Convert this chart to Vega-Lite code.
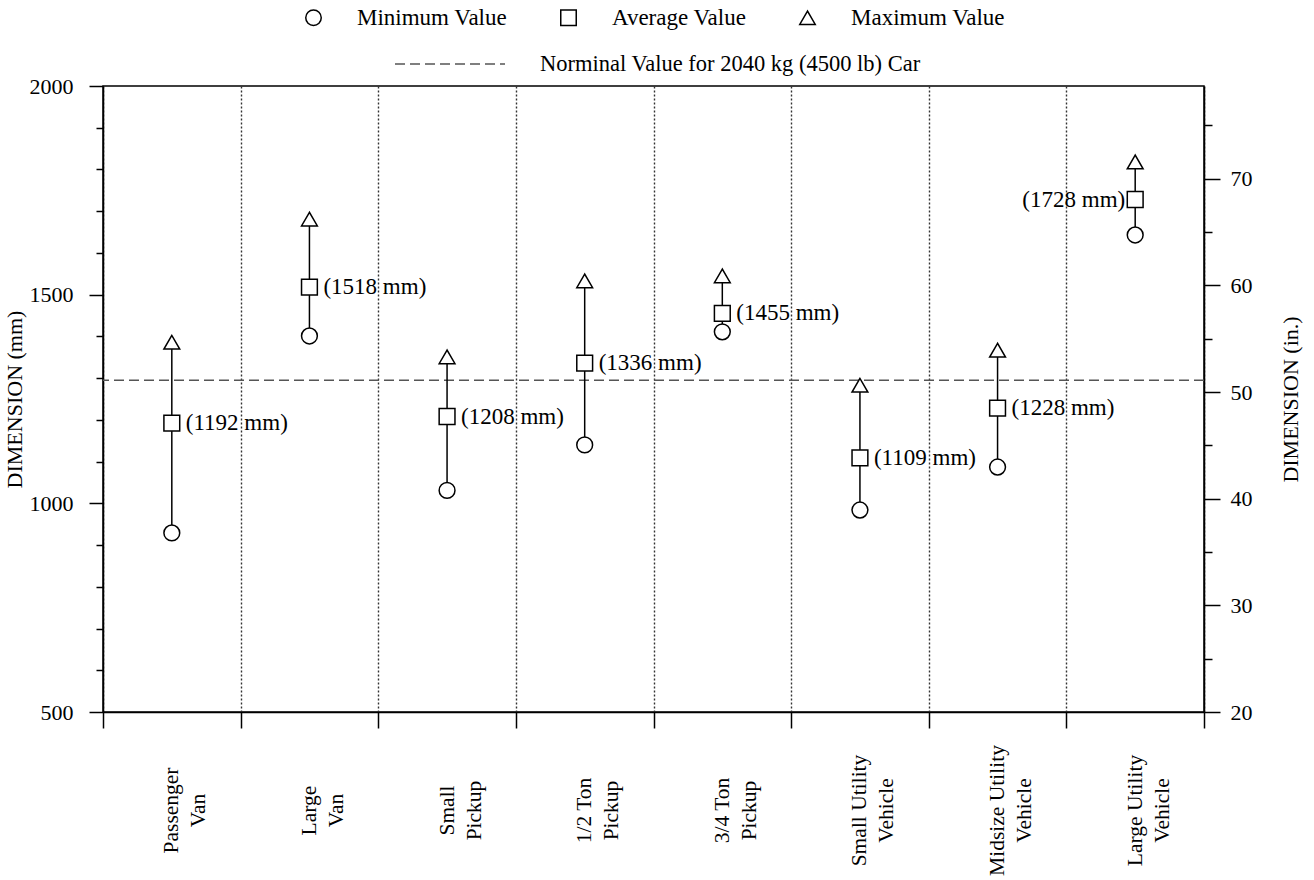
{
  "$schema": "https://vega.github.io/schema/vega-lite/v6.json",
  "width": 1101,
  "height": 626,
  "autosize": {"type": "none"},
  "padding": {"left": 103, "top": 86, "right": 110, "bottom": 168},
  "background": "white",
  "config": {
    "font": "Liberation Serif",
    "view": {"stroke": "black", "strokeWidth": 1.5},
    "axis": {"labelColor": "black", "titleColor": "black", "domainColor": "black", "tickColor": "black", "domainWidth": 1.5, "tickWidth": 1.5, "titleFontWeight": "normal"}
  },
  "datasets": {
    "stats": [
      {"cat": "Passenger Van", "stat": "Minimum Value", "v": 929},
      {"cat": "Passenger Van", "stat": "Average Value", "v": 1192, "label": "(1192 mm)"},
      {"cat": "Passenger Van", "stat": "Maximum Value", "v": 1386},
      {"cat": "Large Van", "stat": "Minimum Value", "v": 1401},
      {"cat": "Large Van", "stat": "Average Value", "v": 1518, "label": "(1518 mm)"},
      {"cat": "Large Van", "stat": "Maximum Value", "v": 1681},
      {"cat": "Small Pickup", "stat": "Minimum Value", "v": 1031},
      {"cat": "Small Pickup", "stat": "Average Value", "v": 1208, "label": "(1208 mm)"},
      {"cat": "Small Pickup", "stat": "Maximum Value", "v": 1351},
      {"cat": "1/2 Ton Pickup", "stat": "Minimum Value", "v": 1140},
      {"cat": "1/2 Ton Pickup", "stat": "Average Value", "v": 1336, "label": "(1336 mm)"},
      {"cat": "1/2 Ton Pickup", "stat": "Maximum Value", "v": 1533},
      {"cat": "3/4 Ton Pickup", "stat": "Minimum Value", "v": 1411},
      {"cat": "3/4 Ton Pickup", "stat": "Average Value", "v": 1455, "label": "(1455 mm)"},
      {"cat": "3/4 Ton Pickup", "stat": "Maximum Value", "v": 1545},
      {"cat": "Small Utility Vehicle", "stat": "Minimum Value", "v": 984},
      {"cat": "Small Utility Vehicle", "stat": "Average Value", "v": 1109, "label": "(1109 mm)"},
      {"cat": "Small Utility Vehicle", "stat": "Maximum Value", "v": 1283},
      {"cat": "Midsize Utility Vehicle", "stat": "Minimum Value", "v": 1087},
      {"cat": "Midsize Utility Vehicle", "stat": "Average Value", "v": 1228, "label": "(1228 mm)"},
      {"cat": "Midsize Utility Vehicle", "stat": "Maximum Value", "v": 1367},
      {"cat": "Large Utility Vehicle", "stat": "Minimum Value", "v": 1643},
      {"cat": "Large Utility Vehicle", "stat": "Average Value", "v": 1728, "label": "(1728 mm)"},
      {"cat": "Large Utility Vehicle", "stat": "Maximum Value", "v": 1818}
    ]
  },
  "layer": [
    {
      "data": {"name": "stats"},
      "layer": [
        {
          "data": {"values": [{"name": "Norminal Value for 2040 kg (4500 lb) Car", "v": 1295}]},
          "mark": {"type": "rule", "color": "#555555", "strokeWidth": 1.5},
          "encoding": {
            "y": {
              "field": "v", "type": "quantitative", "title": "DIMENSION (mm)",
              "scale": {"domain": [500, 2000], "nice": false, "zero": false},
              "axis": {
                "values": [500, 600, 700, 800, 900, 1000, 1100, 1200, 1300, 1400, 1500, 1600, 1700, 1800, 1900, 2000],
                "format": "d",
                "labelExpr": "datum.value % 500 === 0 ? datum.label : ''",
                "tickSize": {"condition": {"test": "datum.value % 500 === 0", "value": 14}, "value": 7},
                "labelFontSize": 22,
                "labelPadding": 16,
                "titleFontSize": 22,
                "titlePadding": 3,
                "grid": false,
                "labelOverlap": false
              }
            },
            "strokeDash": {
              "field": "name", "type": "nominal",
              "scale": {"range": [[10, 5]]},
              "legend": {
                "orient": "none", "legendX": 291, "legendY": -78,
                "title": null, "symbolType": "stroke", "symbolSize": 12100,
                "symbolStrokeColor": "#555555", "symbolStrokeWidth": 1.5,
                "labelFontSize": 22.5, "labelOffset": 34, "labelColor": "black", "padding": 0, "labelLimit": 0
              }
            }
          }
        },
        {
          "mark": {"type": "rule", "color": "black", "strokeWidth": 1.5},
          "encoding": {
            "x": {"field": "cat", "type": "nominal", "sort": null, "scale": {"type": "band", "paddingInner": 0, "paddingOuter": 0}},
            "y": {"aggregate": "min", "field": "v", "type": "quantitative", "title": "DIMENSION (mm)"},
            "y2": {"aggregate": "max", "field": "v"}
          }
        },
        {
          "mark": {"type": "point", "filled": true, "fill": "white", "stroke": "black", "strokeWidth": 1.5, "opacity": 1, "size": 250},
          "encoding": {
            "x": {
              "field": "cat", "type": "nominal", "sort": null, "title": null,
              "scale": {"type": "band", "paddingInner": 0, "paddingOuter": 0},
              "axis": {
                "tickBand": "extent",
                "grid": true, "gridDash": [2, 2], "gridColor": "#333333", "gridWidth": 1.4,
                "tickSize": 16,
                "labelAngle": -90, "labelAlign": "center", "labelBaseline": "middle",
                "labelPadding": 82, "labelFontSize": 21.5, "labelLineHeight": 27,
                "labelLimit": 0, "labelOverlap": false,
                "labelExpr": "[substring(datum.label, 0, lastindexof(datum.label, ' ')), substring(datum.label, lastindexof(datum.label, ' ') + 1)]"
              }
            },
            "y": {"field": "v", "type": "quantitative", "title": "DIMENSION (mm)"},
            "shape": {
              "field": "stat", "type": "nominal",
              "scale": {"domain": ["Minimum Value", "Average Value", "Maximum Value"], "range": ["circle", "square", "triangle-up"]},
              "legend": {
                "orient": "none", "legendX": 199, "legendY": -80, "direction": "horizontal",
                "title": null, "labelFontSize": 23, "symbolSize": 240,
                "labelOffset": 32, "columnPadding": 49, "padding": 0, "labelColor": "black", "labelLimit": 0,
                "encode": {
                  "symbols": {
                    "update": {
                      "fill": {"value": "white"},
                      "stroke": {"value": "black"},
                      "strokeWidth": {"value": 1.5},
                      "opacity": {"value": 1}
                    }
                  }
                }
              }
            }
          }
        },
        {
          "transform": [{"filter": "datum.label != null && datum.cat != 'Large Utility Vehicle'"}],
          "mark": {"type": "text", "align": "left", "baseline": "middle", "dx": 14, "fontSize": 23, "color": "black"},
          "encoding": {
            "x": {"field": "cat", "type": "nominal", "sort": null, "scale": {"type": "band", "paddingInner": 0, "paddingOuter": 0}},
            "y": {"field": "v", "type": "quantitative", "title": "DIMENSION (mm)"},
            "text": {"field": "label"}
          }
        },
        {
          "transform": [{"filter": "datum.label != null && datum.cat == 'Large Utility Vehicle'"}],
          "mark": {"type": "text", "align": "right", "baseline": "middle", "dx": -10, "fontSize": 23, "color": "black"},
          "encoding": {
            "x": {"field": "cat", "type": "nominal", "sort": null, "scale": {"type": "band", "paddingInner": 0, "paddingOuter": 0}},
            "y": {"field": "v", "type": "quantitative", "title": "DIMENSION (mm)"},
            "text": {"field": "label"}
          }
        }
      ]
    },
    {
      "data": {"values": [{"inch": 20}, {"inch": 78.7}]},
      "mark": {"type": "rule", "opacity": 0},
      "encoding": {
        "y": {
          "field": "inch", "type": "quantitative", "title": "DIMENSION (in.)",
          "scale": {"domain": [20, 78.7], "nice": false, "zero": false},
          "axis": {
            "orient": "right",
            "values": [20, 25, 30, 35, 40, 45, 50, 55, 60, 65, 70, 75],
            "labelExpr": "datum.value % 10 === 0 ? datum.label : ''",
            "tickSize": {"condition": {"test": "datum.value % 10 === 0", "value": 16}, "value": 8},
            "labelFontSize": 22,
            "labelPadding": 10,
            "titleFontSize": 22,
            "titleAngle": 270,
            "titleBaseline": "top",
            "titlePadding": 28,
            "grid": false,
            "labelOverlap": false
          }
        }
      }
    }
  ],
  "resolve": {"scale": {"y": "independent"}}
}
